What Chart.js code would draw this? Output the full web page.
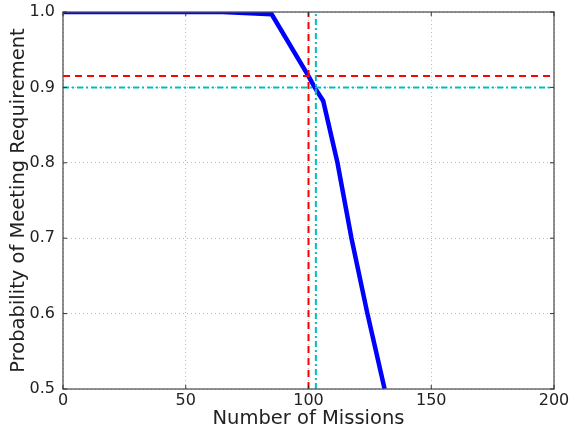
<!DOCTYPE html>
<html><head><meta charset="utf-8">
<script src="https://cdn.jsdelivr.net/npm/chart.js@4/dist/chart.umd.min.js"></script>
<style>html,body{margin:0;padding:0;background:#fff}#wrap{width:570px;height:434px}</style>
</head><body><div id="wrap"><canvas id="c" width="570" height="434"></canvas></div>
<script>
const missions = [0, 65, 85, 100, 102.5, 106, 111.8, 117.5, 124, 127.5, 131];
const probability = [1.0, 1.0, 0.997, 0.915, 0.9, 0.882, 0.8, 0.7, 0.6, 0.55, 0.5];
const achievedProb = 0.915;
const requiredProb = 0.9;
const achievedMissions = 100;
const requiredMissions = 103;
const xTicks = [0, 50, 100, 150, 200];
const yTicks = [0.5, 0.6, 0.7, 0.8, 0.9, 1.0];

const xMin = xTicks[0], xMax = xTicks[xTicks.length-1];
const yMin = yTicks[0], yMax = yTicks[yTicks.length-1];

const frame = {
  id: 'frame',
  afterDatasetsDraw(chart) {
    const {ctx, chartArea: a, scales} = chart;
    ctx.save();
    ctx.strokeStyle = '#555';
    ctx.lineWidth = 1.3;
    ctx.strokeRect(a.left, a.top, a.right - a.left, a.bottom - a.top);
    ctx.lineWidth = 1;
    ctx.strokeStyle = '#333';
    xTicks.forEach(v => {
      const x = scales.x.getPixelForValue(v);
      ctx.beginPath(); ctx.moveTo(x, a.bottom); ctx.lineTo(x, a.bottom - 4);
      ctx.moveTo(x, a.top); ctx.lineTo(x, a.top + 4); ctx.stroke();
    });
    yTicks.forEach(v => {
      const y = scales.y.getPixelForValue(v);
      ctx.beginPath(); ctx.moveTo(a.left, y); ctx.lineTo(a.left + 4, y);
      ctx.moveTo(a.right, y); ctx.lineTo(a.right - 4, y); ctx.stroke();
    });
    ctx.restore();
  }
};

new Chart(document.getElementById('c'), {
  type: 'line',
  data: {
    datasets: [
      {
        data: missions.map((m, i) => ({x: m, y: probability[i]})),
        borderColor: '#0000ff', borderWidth: 4.5, pointRadius: 0, tension: 0, order: 2
      },
      {
        data: [{x: xMin, y: achievedProb}, {x: xMax, y: achievedProb}],
        borderColor: '#ff0000', borderWidth: 2, borderDash: [7, 5], pointRadius: 0, order: 1
      },
      {
        data: [{x: achievedMissions, y: yMin}, {x: achievedMissions, y: yMax}],
        borderColor: '#ff0000', borderWidth: 2, borderDash: [7, 5], pointRadius: 0, order: 1
      },
      {
        data: [{x: xMin, y: requiredProb}, {x: xMax, y: requiredProb}],
        borderColor: '#00bfbf', borderWidth: 2, borderDash: [6, 3, 2, 3], pointRadius: 0, order: 0
      },
      {
        data: [{x: requiredMissions, y: yMin}, {x: requiredMissions, y: yMax}],
        borderColor: '#00bfbf', borderWidth: 2, borderDash: [6, 3, 2, 3], pointRadius: 0, order: 0
      }
    ]
  },
  options: {
    responsive: false, animation: false,
    layout: {padding: {left: 0, right: 16, top: 12, bottom: 0}},
    plugins: {legend: {display: false}, tooltip: {enabled: false}},
    scales: {
      x: {
        type: 'linear', min: xMin, max: xMax,
        afterBuildTicks: s => { s.ticks = xTicks.map(v => ({value: v})); },
        afterFit: s => { s.height = 45; s.paddingLeft = 0; s.paddingRight = 0; },
        grid: {color: '#bbb', drawTicks: false, lineWidth: 1},
        border: {display: false, dash: [1, 3]},
        ticks: {padding: 2, color: '#222', font: {family: 'DejaVu Sans', size: 16}, maxRotation: 0,
          callback: v => String(v)},
        title: {display: true, text: 'Number of Missions', color: '#222', padding: {top: 0, bottom: 3},
          font: {family: 'DejaVu Sans', size: 19.5}}
      },
      y: {
        type: 'linear', min: yMin, max: yMax,
        afterBuildTicks: s => { s.ticks = yTicks.map(v => ({value: v})); },
        afterFit: s => { s.width = 63; s.paddingTop = 0; s.paddingBottom = 0; },
        grid: {color: '#bbb', drawTicks: false, lineWidth: 1},
        border: {display: false, dash: [1, 3]},
        ticks: {padding: 8, color: '#222', font: {family: 'DejaVu Sans', size: 16},
          callback: v => Number(v).toFixed(1)},
        title: {display: true, text: 'Probability of Meeting Requirement', color: '#222', padding: {top: 7, bottom: 0},
          font: {family: 'DejaVu Sans', size: 19.5}}
      }
    }
  },
  plugins: [frame]
});
</script></body></html>
